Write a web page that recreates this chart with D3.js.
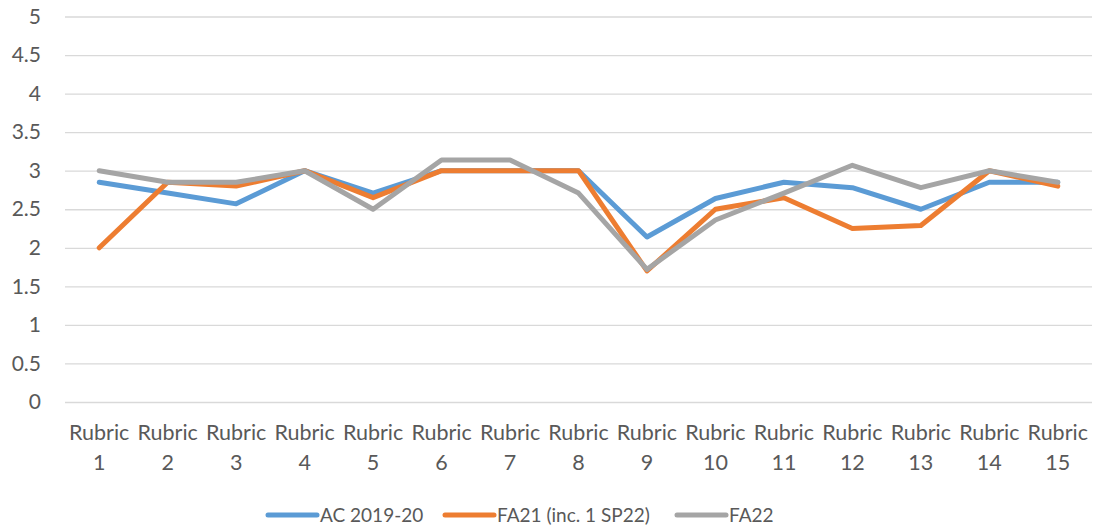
<!DOCTYPE html>
<meta charset="utf-8">
<script src="https://d3js.org/d3.v7.min.js"></script>
<style>
body { margin: 0; background: white; }
svg text { font-family: Lato, "Open Sans", sans-serif; fill: #595959; }
.grid line { stroke: #d9d9d9; stroke-width: 1.3px; }
.grid path { display: none; }
.series { fill: none; stroke-width: 5px; stroke-linejoin: round; stroke-linecap: round; }
</style>
<body>
<svg id="svg" width="1095" height="527"></svg>
<script>
var categories = ["Rubric 1", "Rubric 2", "Rubric 3", "Rubric 4", "Rubric 5", "Rubric 6", "Rubric 7", "Rubric 8",
    "Rubric 9", "Rubric 10", "Rubric 11", "Rubric 12", "Rubric 13", "Rubric 14", "Rubric 15"];
var seriesNames = ["AC 2019-20", "FA21 (inc. 1 SP22)", "FA22"];
var ac1920 = [2.85, 2.71, 2.57, 3.0, 2.71, 3.0, 3.0, 3.0, 2.14, 2.64, 2.85, 2.78, 2.5, 2.85, 2.85];
var fa21 = [2.0, 2.85, 2.8, 3.0, 2.65, 3.0, 3.0, 3.0, 1.7, 2.5, 2.65, 2.25, 2.29, 3.0, 2.8];
var fa22 = [3.0, 2.85, 2.85, 3.0, 2.5, 3.14, 3.14, 2.71, 1.72, 2.36, 2.71, 3.07, 2.78, 3.0, 2.85];
var yTicks = [0, 0.5, 1, 1.5, 2, 2.5, 3, 3.5, 4, 4.5, 5];
var colors = ["#5b9bd5", "#ed7d31", "#a5a5a5"];

var data = [ac1920, fa21, fa22];

var svg = d3.select("#svg");
var margin = { top: 16.5, right: 3, bottom: 125, left: 65 };
var width = 1095 - margin.left - margin.right;
var height = 527 - margin.top - margin.bottom;

var g = svg.append("g")
    .attr("transform", "translate(" + margin.left + "," + margin.top + ")");

var x = d3.scaleBand().domain(categories).range([0, width]);
var y = d3.scaleLinear().domain([0, 5]).range([height, 0]);

// horizontal gridlines + y labels
var yAxis = g.append("g")
    .attr("class", "grid")
    .call(d3.axisLeft(y).tickValues(yTicks).tickSize(-width).tickFormat(d3.format("")));
yAxis.selectAll("text")
    .attr("x", -24)
    .style("font-size", "21px");

// x labels, two lines each
var xAxis = g.append("g")
    .attr("transform", "translate(0," + height + ")");
xAxis.selectAll("text")
    .data(categories)
    .enter().append("text")
    .attr("text-anchor", "middle")
    .style("font-size", "21.5px")
    .attr("x", function(d) { return x(d) + x.bandwidth() / 2; })
    .each(function(d) {
        var parts = d.split(" ");
        d3.select(this).append("tspan").attr("x", x(d) + x.bandwidth() / 2).attr("y", 38).text(parts[0]);
        d3.select(this).append("tspan").attr("x", x(d) + x.bandwidth() / 2).attr("y", 68).text(parts[1]);
    });

var line = d3.line()
    .x(function(d, i) { return x(categories[i]) + x.bandwidth() / 2; })
    .y(function(d) { return y(d); });

g.selectAll(".series")
    .data(data)
    .enter().append("path")
    .attr("class", "series")
    .style("stroke", function(d, i) { return colors[i]; })
    .attr("d", line);

// legend
var legendX = [268, 445, 677];
var legend = svg.append("g")
    .selectAll("g")
    .data(seriesNames)
    .enter().append("g")
    .attr("transform", function(d, i) { return "translate(" + legendX[i] + ",515)"; });

legend.append("line")
    .attr("x1", 0).attr("x2", 49)
    .attr("stroke", function(d, i) { return colors[i]; })
    .attr("stroke-width", 5)
    .attr("stroke-linecap", "round");

legend.append("text")
    .attr("x", 52)
    .attr("dy", "0.35em")
    .style("font-size", "19px")
    .text(function(d) { return d; });
</script>
</body>
